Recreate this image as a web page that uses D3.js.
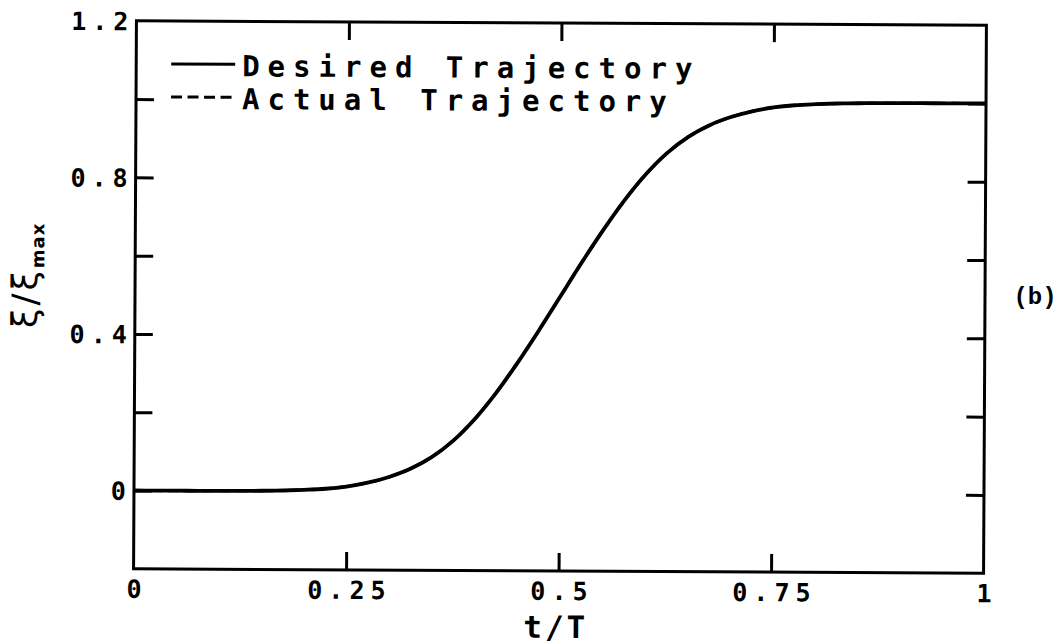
<!DOCTYPE html>
<html>
<head>
<meta charset="utf-8">
<script src="https://cdn.jsdelivr.net/npm/d3@7"></script>
<style>
  html, body { margin: 0; padding: 0; background: #fff; }
  svg { display: block; }
  .plotter { font-family: "DejaVu Sans Mono", monospace; font-weight: bold; fill: #000; }
</style>
</head>
<body>
<svg id="chart" width="1063" height="644"></svg>
<script>
// Normalised time t/T
const tValues = [0, 0.025, 0.05, 0.075, 0.1, 0.125, 0.15, 0.175, 0.2, 0.225,
                 0.25, 0.275, 0.3, 0.325, 0.35, 0.375, 0.4, 0.425, 0.45, 0.475,
                 0.5, 0.525, 0.55, 0.575, 0.6, 0.625, 0.65, 0.675, 0.7, 0.725,
                 0.75, 0.775, 0.8, 0.825, 0.85, 0.875, 0.9, 0.925, 0.95, 0.975, 1];
// Desired trajectory xi / xi_max
const desired = [0, 0, 0, 0, 0.0003, 0.0006, 0.001, 0.002, 0.004, 0.007,
                 0.013, 0.023, 0.038, 0.059, 0.089, 0.131, 0.186, 0.253, 0.330, 0.413,
                 0.5, 0.587, 0.670, 0.747, 0.814, 0.869, 0.911, 0.941, 0.962, 0.977,
                 0.987, 0.993, 0.996, 0.998, 0.999, 0.9994, 0.9997, 1, 1, 1, 1];
// Actual trajectory (tracks the desired one)
const actual = [0, 0, 0, 0, 0.0003, 0.0006, 0.001, 0.002, 0.004, 0.007,
                0.013, 0.023, 0.038, 0.059, 0.089, 0.131, 0.186, 0.253, 0.330, 0.413,
                0.5, 0.587, 0.670, 0.747, 0.814, 0.869, 0.911, 0.941, 0.962, 0.977,
                0.987, 0.993, 0.996, 0.998, 0.999, 0.9994, 0.9997, 1, 1, 1, 1];

const xDomain = [0, 1];
const yDomain = [-0.2, 1.2];
const xTickValues = [0.25, 0.5, 0.75];
const xLabelValues = [0, 0.25, 0.5, 0.75, 1];
const yTickValues = [0, 0.2, 0.4, 0.6, 0.8, 1.0];
const yLabelValues = [0, 0.4, 0.8, 1.2];
const legendLabels = ["Desired Trajectory", "Actual Trajectory"];

const svg = d3.select("#chart");
const plotLeft = 135, plotRight = 985, plotTop = 23, plotBottom = 571;

const x = d3.scaleLinear().domain(xDomain).range([plotLeft, plotRight]);
const y = d3.scaleLinear().domain(yDomain).range([plotBottom, plotTop]);

// whole sheet sits very slightly rotated
const g = svg.append("g").attr("transform", "rotate(0.3, 560, 297)");

const TICK = 18;
const fmt = d => d === 0 ? "0" : (d === 1 ? "1" : String(d));

// inward tick marks on all four sides
function tickOnly(axis, tx, ty) {
  const a = g.append("g").attr("transform", `translate(${tx},${ty})`).call(axis);
  a.select(".domain").remove();
  a.selectAll("line").attr("stroke", "#000").attr("stroke-width", 3);
  a.selectAll("text").remove();
}
tickOnly(d3.axisBottom(x).tickValues(xTickValues).tickSizeInner(-TICK).tickSizeOuter(0), 0, plotBottom);
tickOnly(d3.axisTop(x).tickValues(xTickValues).tickSizeInner(-TICK).tickSizeOuter(0), 0, plotTop);
tickOnly(d3.axisLeft(y).tickValues(yTickValues).tickSizeInner(-TICK).tickSizeOuter(0), plotLeft, 0);
tickOnly(d3.axisRight(y).tickValues(yTickValues).tickSizeInner(-TICK).tickSizeOuter(0), plotRight, 0);

// tick labels
const LS = 6; // letter spacing of the plotter lettering
const xl = g.append("g").attr("transform", `translate(0,${plotBottom})`)
  .call(d3.axisBottom(x).tickValues(xLabelValues).tickSize(0).tickPadding(0).tickFormat(fmt));
xl.select(".domain").remove();
xl.selectAll("text")
  .attr("letter-spacing", LS)
  .attr("dx", LS / 2)
  .attr("dy", 0)
  .attr("y", 29);

const yl = g.append("g").attr("transform", `translate(${plotLeft},0)`)
  .call(d3.axisLeft(y).tickValues(yLabelValues).tickSize(0).tickPadding(0).tickFormat(fmt));
yl.select(".domain").remove();
yl.selectAll("text")
  .attr("letter-spacing", LS)
  .attr("dx", LS)
  .attr("x", -8)
  .attr("dy", "0.36em");
[xl, yl].forEach(a => a
  .attr("font-family", "DejaVu Sans Mono, monospace")
  .attr("font-weight", "bold")
  .attr("font-size", 25)
  .selectAll("text").attr("fill", "#000"));

// frame
g.append("rect")
  .attr("x", plotLeft).attr("y", plotTop)
  .attr("width", plotRight - plotLeft).attr("height", plotBottom - plotTop)
  .attr("fill", "none").attr("stroke", "#000").attr("stroke-width", 3);

// trajectories
const line = d3.line()
  .x((d, i) => x(tValues[i]))
  .y(d => y(d))
  .curve(d3.curveCatmullRom.alpha(0.5));

g.append("path").datum(desired)
  .attr("d", line)
  .attr("fill", "none").attr("stroke", "#000").attr("stroke-width", 3.8);
g.append("path").datum(actual)
  .attr("d", line)
  .attr("fill", "none").attr("stroke", "#000").attr("stroke-width", 3)
  .attr("stroke-dasharray", "11,6");

// legend
const legend = g.append("g");
const legY = [66, 99];
legendLabels.forEach((label, i) => {
  legend.append("line")
    .attr("x1", 170).attr("x2", 234)
    .attr("y1", legY[i]).attr("y2", legY[i])
    .attr("stroke", "#000").attr("stroke-width", 3)
    .attr("stroke-dasharray", i === 0 ? null : "11,5.5");
  legend.append("text")
    .attr("class", "plotter")
    .attr("x", 241).attr("y", legY[i] + 12)
    .attr("font-size", 29)
    .attr("letter-spacing", 8)
    .text(label);
});

// axis titles
g.append("text")
  .attr("class", "plotter")
  .attr("x", 556 + 1.5).attr("y", 638)
  .attr("text-anchor", "middle")
  .attr("font-size", 31)
  .attr("letter-spacing", 3)
  .text("t/T");

const yt = g.append("text")
  .attr("transform", "translate(37,278) rotate(-90)")
  .attr("text-anchor", "middle")
  .attr("font-family", "DejaVu Sans, sans-serif")
  .attr("font-size", 35)
  .attr("fill", "#000");
yt.append("tspan").attr("letter-spacing", 3).text("ξ/ξ");
yt.append("tspan")
  .attr("font-size", 18).attr("font-weight", "bold")
  .attr("dy", 7).attr("letter-spacing", 1)
  .text("max");

svg.append("text")
  .attr("x", 1035).attr("y", 304)
  .attr("text-anchor", "middle")
  .attr("font-family", "Liberation Mono, monospace")
  .attr("font-weight", "bold")
  .attr("font-size", 24)
  .attr("fill", "#000")
  .text("(b)");
</script>
</body>
</html>
